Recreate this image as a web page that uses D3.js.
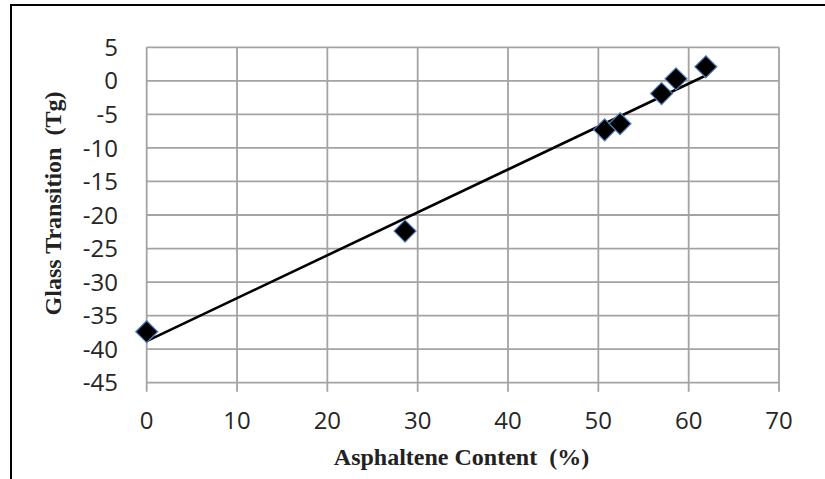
<!DOCTYPE html>
<html>
<head>
<meta charset="utf-8">
<script src="https://cdn.jsdelivr.net/npm/d3@7"></script>
<style>
  html, body { margin: 0; padding: 0; background: #fff; }
  svg { display: block; }
</style>
</head>
<body>
<script>
// ---- data ----
const asphaltene = [0, 28.6, 50.7, 52.4, 57.0, 58.6, 61.9];
const glassTransition = [-37.4, -22.4, -7.3, -6.4, -1.9, 0.3, 2.1];
const trendX = [0, 61.9];
const trendY = [-38.8, 0.8];
const xTicks = [0, 10, 20, 30, 40, 50, 60, 70];
const yTicks = [5, 0, -5, -10, -15, -20, -25, -30, -35, -40, -45];
const xTitle = "Asphaltene Content\u00a0\u00a0(%)";
const yTitle = "Glass Transition\u00a0\u00a0(Tg)";

const W = 825, H = 479;
const svg = d3.select("body").append("svg").attr("width", W).attr("height", H);
svg.append("rect").attr("width", W).attr("height", H).attr("fill", "#fff");

// outer frame (left and top visible)
svg.append("path")
  .attr("d", "M11,481 L11,5 L827,5")
  .attr("fill", "none").attr("stroke", "#000").attr("stroke-width", 2);

const plot = { left: 146.7, right: 779, top: 47.3, bottom: 382.7 };
const x = d3.scaleLinear().domain([0, 70]).range([plot.left, plot.right]);
const y = d3.scaleLinear().domain([-45, 5]).range([plot.bottom, plot.top]);

const gridColor = "#a3a3a3";
// horizontal gridlines
svg.append("g").selectAll("line").data(yTicks).join("line")
  .attr("x1", plot.left).attr("x2", plot.right)
  .attr("y1", d => y(d)).attr("y2", d => y(d))
  .attr("stroke", gridColor).attr("stroke-width", 1.8);
// vertical gridlines + ticks below axis
svg.append("g").selectAll("line").data(xTicks).join("line")
  .attr("x1", d => x(d)).attr("x2", d => x(d))
  .attr("y1", plot.top).attr("y2", plot.bottom + 9)
  .attr("stroke", gridColor).attr("stroke-width", 1.8);

const tickFont = "'Open Sans', 'Noto Sans', sans-serif";
// y tick labels
svg.append("g").selectAll("text").data(yTicks).join("text")
  .attr("x", 118).attr("y", d => y(d)).attr("dy", "0.36em")
  .attr("text-anchor", "end")
  .attr("font-family", tickFont).attr("font-size", 24).attr("fill", "#262626")
  .text(d => d);
// x tick labels
svg.append("g").selectAll("text").data(xTicks).join("text")
  .attr("x", d => x(d)).attr("y", 429)
  .attr("text-anchor", "middle")
  .attr("font-family", tickFont).attr("font-size", 24).attr("fill", "#262626")
  .text(d => d);

// trend line
svg.append("line")
  .attr("x1", x(trendX[0])).attr("y1", y(trendY[0]))
  .attr("x2", x(trendX[1])).attr("y2", y(trendY[1]))
  .attr("stroke", "#000").attr("stroke-width", 2.6);

// diamond markers
const pts = asphaltene.map((a, i) => [a, glassTransition[i]]);
const r = 11;
svg.append("g").selectAll("path").data(pts).join("path")
  .attr("d", d => {
    const cx = x(d[0]), cy = y(d[1]);
    return `M${cx},${cy - r} L${cx + r},${cy} L${cx},${cy + r} L${cx - r},${cy} Z`;
  })
  .attr("fill", "#000").attr("stroke", "#4f7fbf").attr("stroke-width", 1.2);

// axis titles
const titleFont = "'Liberation Serif', 'Times New Roman', serif";
svg.append("text")
  .attr("x", 461.5).attr("y", 465)
  .attr("text-anchor", "middle")
  .attr("font-family", titleFont).attr("font-weight", "bold").attr("font-size", 24)
  .attr("fill", "#222")
  .text(xTitle);
svg.append("text")
  .attr("transform", "translate(61,203.5) rotate(-90)")
  .attr("text-anchor", "middle")
  .attr("font-family", titleFont).attr("font-weight", "bold").attr("font-size", 24)
  .attr("fill", "#222")
  .text(yTitle);
</script>
</body>
</html>
